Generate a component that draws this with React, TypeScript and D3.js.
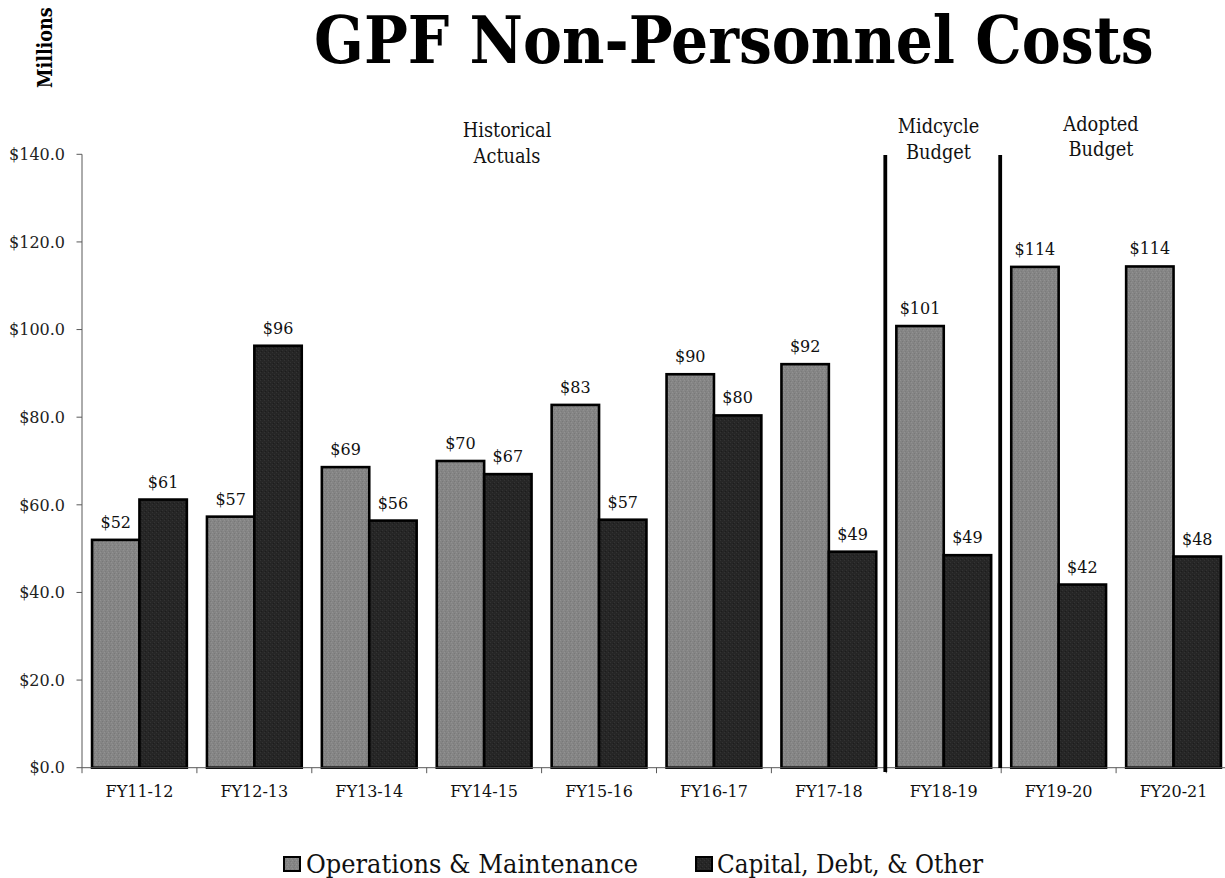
import React from 'react';
import * as d3 from 'd3';

const categories = ['FY11-12', 'FY12-13', 'FY13-14', 'FY14-15', 'FY15-16', 'FY16-17', 'FY17-18', 'FY18-19', 'FY19-20', 'FY20-21'];
const operations = [52.0, 57.3, 68.6, 70.0, 82.8, 89.8, 92.1, 100.8, 114.3, 114.4];
const capital = [61.2, 96.3, 56.4, 67.0, 56.6, 80.4, 49.3, 48.5, 41.8, 48.2];
const seriesNames = ['Operations & Maintenance', 'Capital, Debt, & Other'];
const yTicks = [0, 20, 40, 60, 80, 100, 120, 140];
const sections = [
  { lines: ['Historical', 'Actuals'], cx: 507, y: [137, 163] },
  { lines: ['Midcycle', 'Budget'], cx: 938.5, y: [133, 159] },
  { lines: ['Adopted', 'Budget'], cx: 1101, y: [131, 156] },
];
const separatorsAfter = [7, 8];

const FONT = 'DejaVu Serif';

export default function App() {
  const W = 1225;
  const H = 878;
  const left = 82;
  const right = 1231;
  const x0 = d3
    .scaleBand<string>()
    .domain(categories)
    .range([left, right])
    .paddingInner(0.175)
    .paddingOuter(0.0875);
  const x1 = d3.scaleBand<string>().domain(['om', 'cap']).range([0, x0.bandwidth()]);
  const y = d3.scaleLinear().domain([0, 140]).range([767.7, 154.3]);
  const step = x0.step();
  const boundaries = d3.range(categories.length + 1).map((i) => left + i * step);
  const fills = { om: 'url(#grayTex)', cap: 'url(#darkTex)' };
  const series = [
    { key: 'om', values: operations },
    { key: 'cap', values: capital },
  ];

  return (
    <div style={{ position: 'absolute', left: 0, top: 0 }}>
      <svg width={W} height={H} viewBox={`0 0 ${W} ${H}`} style={{ display: 'block', background: '#fff' }}>
        <defs>
          <pattern id="grayTex" width={4} height={4} patternUnits="userSpaceOnUse">
            <rect width={4} height={4} fill="#858585" />
            <rect x={0} y={0} width={1} height={1} fill="#929292" />
            <rect x={2} y={1} width={1} height={1} fill="#787878" />
            <rect x={1} y={3} width={1} height={1} fill="#7c7c7c" />
            <rect x={3} y={2} width={1} height={1} fill="#909090" />
          </pattern>
          <pattern id="darkTex" width={4} height={4} patternUnits="userSpaceOnUse">
            <rect width={4} height={4} fill="#262626" />
            <rect x={0} y={0} width={1} height={1} fill="#333333" />
            <rect x={2} y={2} width={1} height={1} fill="#333333" />
            <rect x={1} y={3} width={1} height={1} fill="#1c1c1c" />
          </pattern>
        </defs>

        {/* Title */}
        <text
          transform="translate(314,63) scale(0.885,1)"
          fontFamily={FONT}
          fontWeight="bold"
          fontSize={66}
          fill="#000"
        >
          GPF Non-Personnel Costs
        </text>

        {/* Millions */}
        <text
          transform="translate(51.5,88) rotate(-90) scale(0.84,1)"
          fontFamily={FONT}
          fontWeight="bold"
          fontSize={21}
          fill="#000"
        >
          Millions
        </text>

        {/* Y axis */}
        <line x1={left} x2={left} y1={y(140)} y2={y(0)} stroke="#595959" strokeWidth={1} />
        {yTicks.map((t) => (
          <g key={t}>
            <line x1={left - 5.5} x2={left} y1={y(t)} y2={y(t)} stroke="#595959" strokeWidth={1} />
            <text
              x={65}
              y={y(t)}
              dy="0.36em"
              textAnchor="end"
              fontFamily={FONT}
              fontSize={16}
              fill="#222"
            >
              {'$' + t.toFixed(1)}
            </text>
          </g>
        ))}

        {/* Bars */}
        {categories.map((c, i) => (
          <g key={c}>
            {series.map((s) => {
              const v = s.values[i];
              const bx = (x0(c) as number) + (x1(s.key) as number);
              return (
                <g key={s.key}>
                  <rect
                    x={bx}
                    y={y(v)}
                    width={x1.bandwidth()}
                    height={y(0) - y(v)}
                    fill={(fills as any)[s.key]}
                    stroke="#000"
                    strokeWidth={2.6}
                  />
                  <text
                    x={bx + x1.bandwidth() / 2}
                    y={y(v) - 12}
                    textAnchor="middle"
                    fontFamily={FONT}
                    fontSize={16}
                    fill="#111"
                  >
                    {'$' + Math.round(v)}
                  </text>
                </g>
              );
            })}
          </g>
        ))}

        {/* X axis */}
        <line x1={left} x2={right} y1={y(0)} y2={y(0)} stroke="#595959" strokeWidth={1} />
        {boundaries.map((b, i) => (
          <line key={i} x1={b} x2={b} y1={y(0)} y2={y(0) + 5.5} stroke="#595959" strokeWidth={1} />
        ))}
        {categories.map((c) => (
          <text
            key={c}
            x={(x0(c) as number) + x0.bandwidth() / 2}
            y={797}
            textAnchor="middle"
            fontFamily={FONT}
            fontSize={16}
            fill="#111"
          >
            {c}
          </text>
        ))}

        {/* Section separators */}
        {separatorsAfter.map((idx, k) => (
          <line
            key={idx}
            x1={boundaries[idx] - 1}
            x2={boundaries[idx] - 1}
            y1={155}
            y2={k === 0 ? 772 : 768}
            stroke="#000"
            strokeWidth={3.8}
          />
        ))}

        {/* Section labels */}
        {sections.map((s) =>
          s.lines.map((ln, j) => (
            <text
              key={s.cx + ln}
              transform={`translate(${s.cx},${s.y[j]}) scale(0.89,1)`}
              textAnchor="middle"
              fontFamily={FONT}
              fontSize={20}
              fill="#111"
            >
              {ln}
            </text>
          ))
        )}

        {/* Legend */}
        <rect x={284} y={857} width={16} height={14} fill="url(#grayTex)" stroke="#000" strokeWidth={2} />
        <text
          x={306}
          y={873}
          fontFamily={FONT}
          fontSize={26}
          textLength={332}
          lengthAdjust="spacingAndGlyphs"
          fill="#111"
        >
          {seriesNames[0]}
        </text>
        <rect x={696} y={857} width={16} height={14} fill="url(#darkTex)" stroke="#000" strokeWidth={2} />
        <text
          x={717}
          y={873}
          fontFamily={FONT}
          fontSize={26}
          textLength={266}
          lengthAdjust="spacingAndGlyphs"
          fill="#111"
        >
          {seriesNames[1]}
        </text>
      </svg>
    </div>
  );
}
